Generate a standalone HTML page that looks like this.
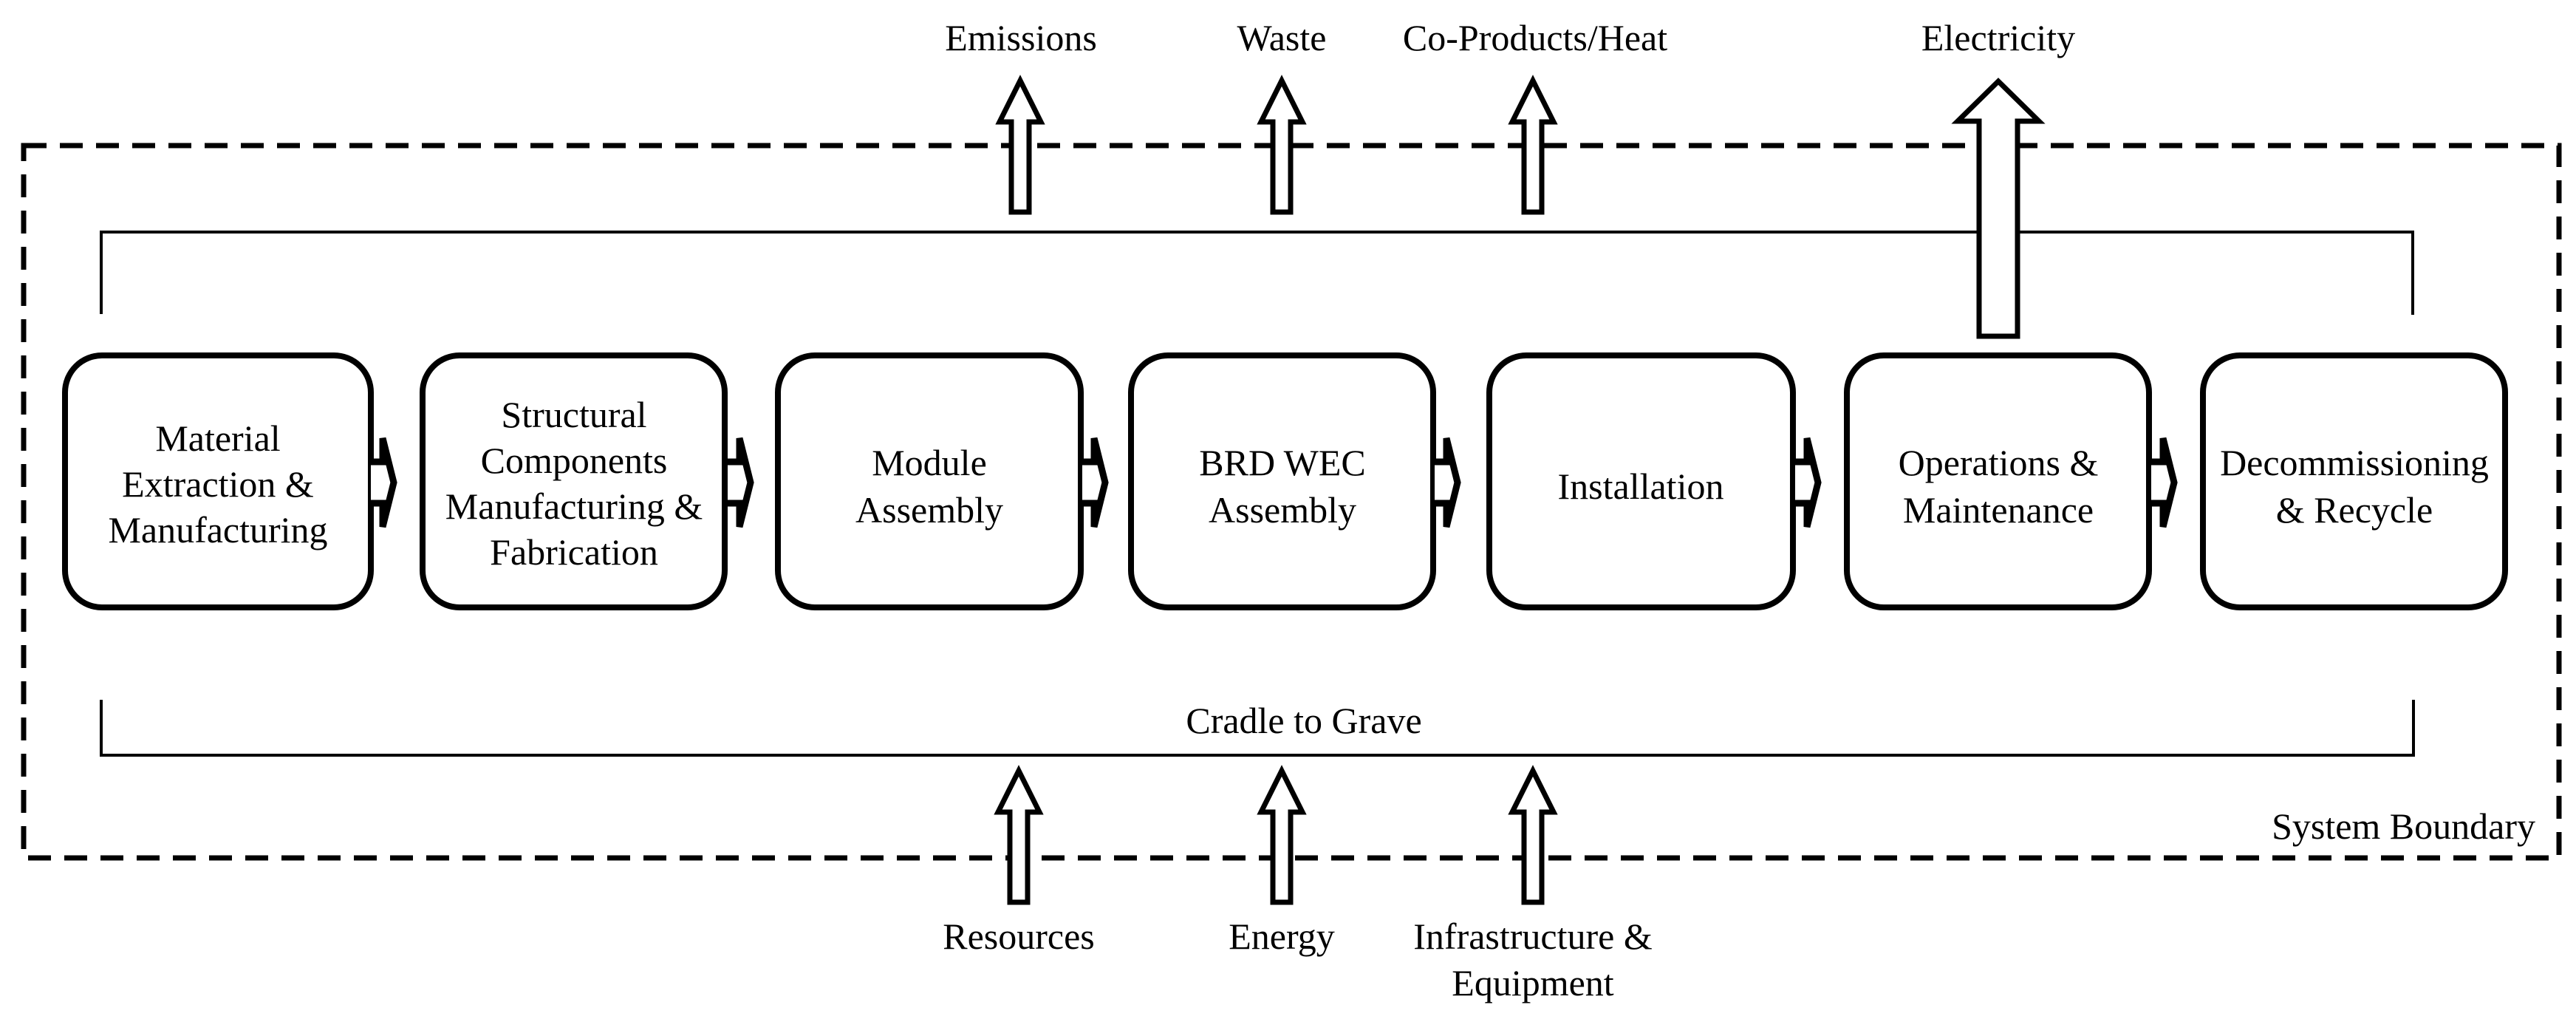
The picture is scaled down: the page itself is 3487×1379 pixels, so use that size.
<!DOCTYPE html>
<html><head><meta charset="utf-8"><style>
html,body{margin:0;padding:0;background:#fff;}
svg{display:block;}
text{font-family:"Liberation Serif",serif;font-size:50px;fill:#000;}
</style></head><body>
<svg width="3487" height="1379" viewBox="0 0 3487 1379" xmlns="http://www.w3.org/2000/svg">
<defs>
<g id="uarr"><path d="M-12,0 V-122 H-28 L0,-178 L28,-122 H12 V0 Z" fill="#fff" stroke="#000" stroke-width="7"/></g>
<g id="rarr"><path d="M0,-28 H16 V-60 L31,0 L16,60 V28 H0" fill="#fff" stroke="#000" stroke-width="9"/></g>
</defs>
<!-- system boundary -->
<rect x="32" y="197" width="3432" height="964" fill="none" stroke="#000" stroke-width="7" stroke-dasharray="31 18"/>
<!-- bracket top -->
<path d="M137,425 V314 H3266 V426" fill="none" stroke="#000" stroke-width="4"/>
<!-- bracket bottom -->
<path d="M137,947 V1022 H3267 V947" fill="none" stroke="#000" stroke-width="4"/>
<!-- top arrows -->
<use href="#uarr" transform="translate(1381,287)"/>
<use href="#uarr" transform="translate(1735,287)"/>
<use href="#uarr" transform="translate(2075,287)"/>
<path d="M2679,455 V164 H2650 L2705,110 L2760,164 H2731 V455 Z" fill="#fff" stroke="#000" stroke-width="7"/>
<!-- bottom arrows -->
<use href="#uarr" transform="translate(1379,1221)"/>
<use href="#uarr" transform="translate(1735,1221)"/>
<use href="#uarr" transform="translate(2075,1221)"/>
<!-- boxes -->
<g fill="#fff" stroke="#000" stroke-width="8">
<rect x="88" y="481" width="414" height="341" rx="50"/>
<rect x="572" y="481" width="409" height="341" rx="50"/>
<rect x="1053" y="481" width="410" height="341" rx="50"/>
<rect x="1531" y="481" width="409" height="341" rx="50"/>
<rect x="2016" y="481" width="411" height="341" rx="50"/>
<rect x="2500" y="481" width="409" height="341" rx="50"/>
<rect x="2982" y="481" width="409" height="341" rx="50"/>
</g>
<!-- box arrows -->
<use href="#rarr" transform="translate(502,653)"/>
<use href="#rarr" transform="translate(985,653)"/>
<use href="#rarr" transform="translate(1465,653)"/>
<use href="#rarr" transform="translate(1942,653)"/>
<use href="#rarr" transform="translate(2430,653)"/>
<use href="#rarr" transform="translate(2912,653)"/>
<!-- box text -->
<g text-anchor="middle">
<text x="295" y="610">Material</text>
<text x="295" y="672">Extraction &amp;</text>
<text x="295" y="734">Manufacturing</text>
<text x="777" y="578">Structural</text>
<text x="777" y="640">Components</text>
<text x="777" y="702">Manufacturing &amp;</text>
<text x="777" y="764">Fabrication</text>
<text x="1258" y="643">Module</text>
<text x="1258" y="707">Assembly</text>
<text x="1736" y="643">BRD WEC</text>
<text x="1736" y="707">Assembly</text>
<text x="2221" y="675">Installation</text>
<text x="2705" y="643">Operations &amp;</text>
<text x="2705" y="707">Maintenance</text>
<text x="3187" y="643">Decommissioning</text>
<text x="3187" y="707">&amp; Recycle</text>
<text x="1765" y="992">Cradle to Grave</text>
<text x="1382" y="68">Emissions</text>
<text x="1735" y="68">Waste</text>
<text x="2078" y="68">Co-Products/Heat</text>
<text x="2705" y="68">Electricity</text>
<text x="1379" y="1284">Resources</text>
<text x="1735" y="1284">Energy</text>
<text x="2075" y="1284">Infrastructure &amp;</text>
<text x="2075" y="1347">Equipment</text>
</g>
<text x="3432" y="1135" text-anchor="end">System Boundary</text>
</svg>
</body></html>
